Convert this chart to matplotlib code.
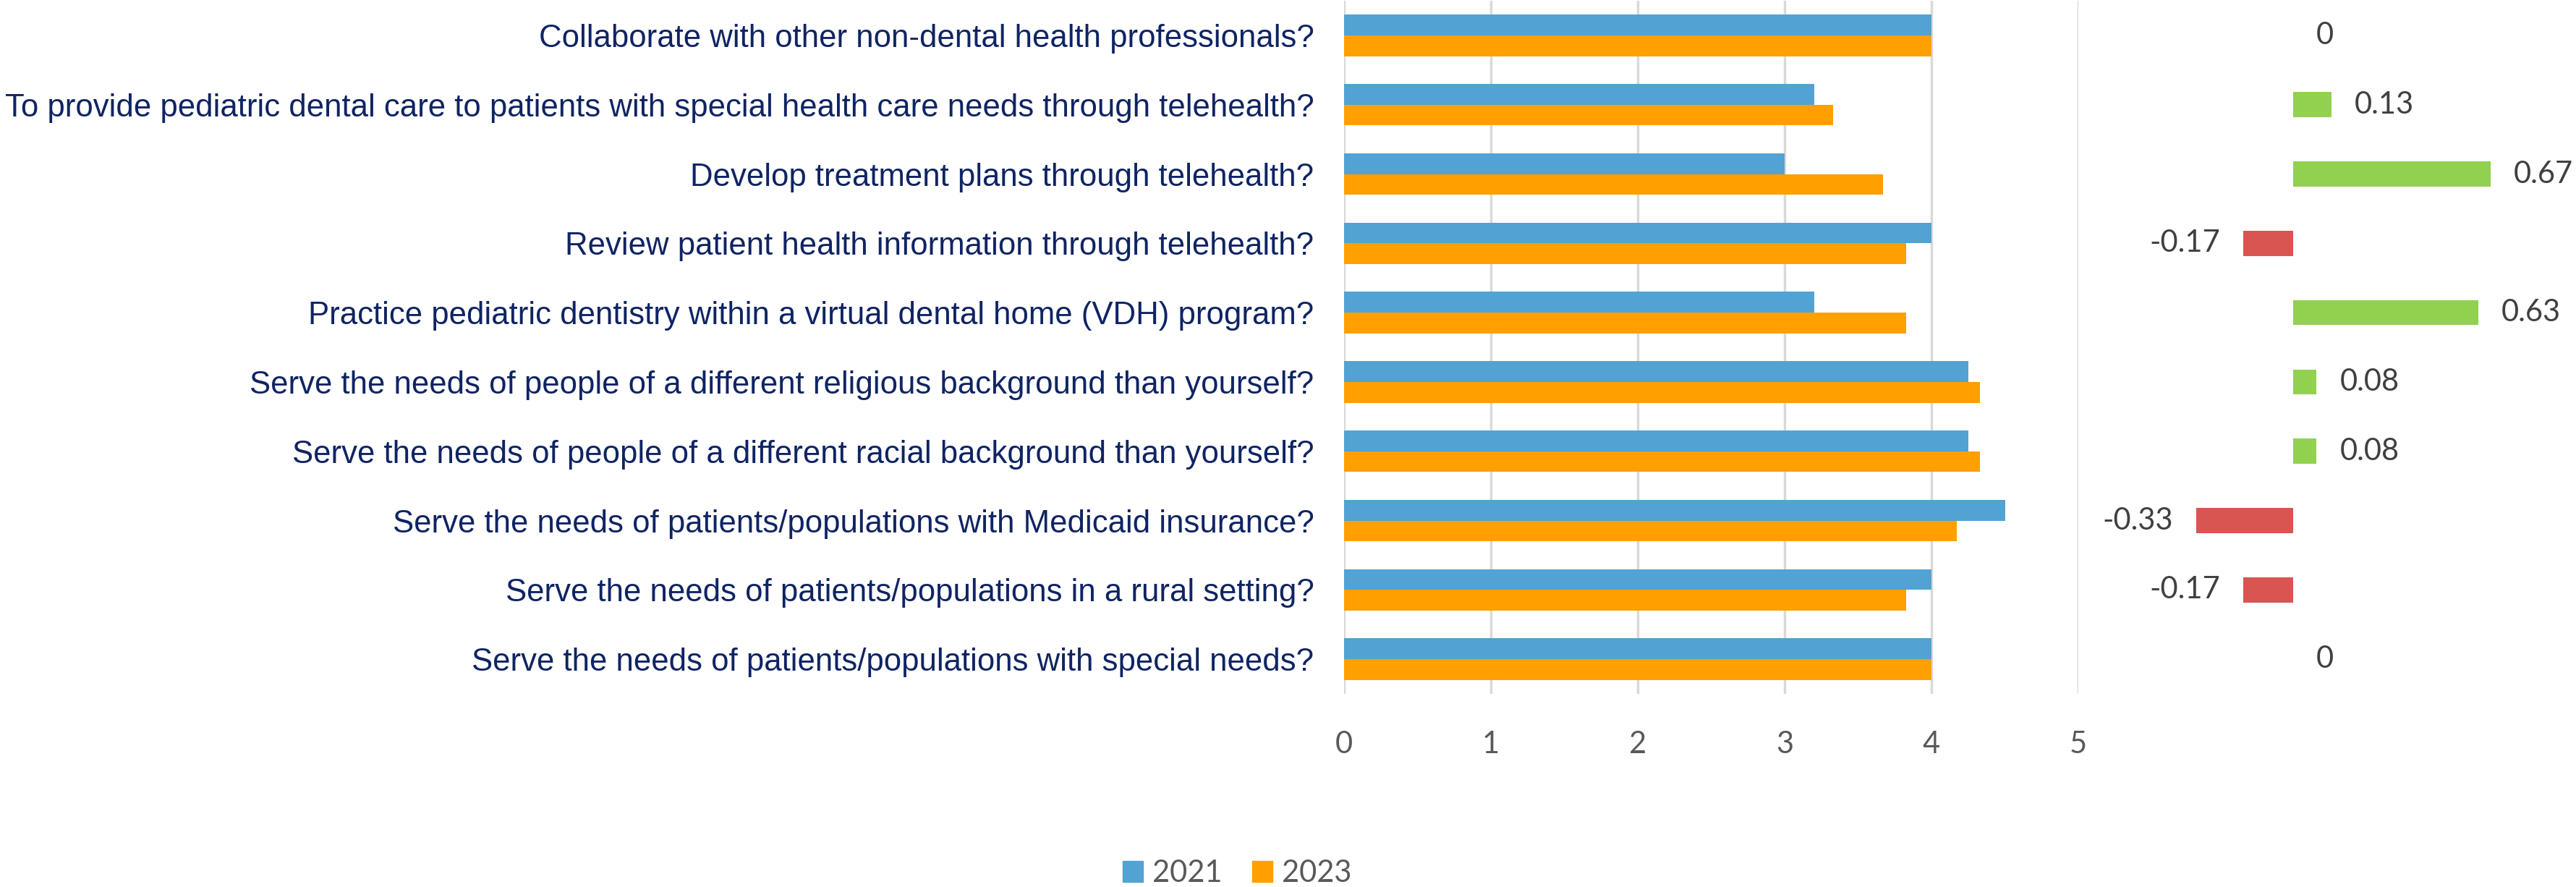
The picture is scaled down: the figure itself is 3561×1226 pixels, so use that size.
import matplotlib
matplotlib.use("Agg")
import matplotlib.pyplot as plt
import numpy as np
from matplotlib.patches import Patch

# categories, top to bottom as shown
questions = [
    "Collaborate with other non-dental health professionals?",
    "To provide pediatric dental care to patients with special health care needs through telehealth?",
    "Develop treatment plans through telehealth?",
    "Review patient health information through telehealth?",
    "Practice pediatric dentistry within a virtual dental home (VDH) program?",
    "Serve the needs of people of a different religious background than yourself?",
    "Serve the needs of people of a different racial background than yourself?",
    "Serve the needs of patients/populations with Medicaid insurance?",
    "Serve the needs of patients/populations in a rural setting?",
    "Serve the needs of patients/populations with special needs?",
]
y2021 = [4.0, 3.2, 3.0, 4.0, 3.2, 4.25, 4.25, 4.5, 4.0, 4.0]
y2023 = [4.0, 3.33, 3.67, 3.83, 3.83, 4.33, 4.33, 4.17, 3.83, 4.0]
diff = [0, 0.13, 0.67, -0.17, 0.63, 0.08, 0.08, -0.33, -0.17, 0]
diff_labels = ["0", "0.13", "0.67", "-0.17", "0.63", "0.08", "0.08", "-0.33", "-0.17", "0"]

blue = "#52A2D3"
orange = "#FF9F00"
green = "#92D050"
red = "#D85552"
navy = "#0F2463"
grey = "#595959"

W, H = 3561, 1226
fig = plt.figure(figsize=(W/100, H/100), dpi=100)

# main bars
ax = fig.add_axes([1858/W, 1-959/H, (2873-1858)/W, (959-1)/H])
pos = np.arange(len(questions))
bh = 0.3
ax.barh(pos - bh/2, y2021, height=bh, color=blue, label="2021", zorder=3)
ax.barh(pos + bh/2, y2023, height=bh, color=orange, label="2023", zorder=3)
ax.set_ylim(len(questions) - 0.5, -0.5)
ax.set_xlim(0, 5)
ax.set_xticks(range(6))
ax.set_yticks(pos)
ax.set_yticklabels(questions, fontsize=31.5, color=navy, fontfamily="Liberation Sans")
ax.tick_params(axis="y", length=0, pad=30)
ax.tick_params(axis="x", length=0, pad=37, labelsize=30, labelcolor=grey)
for t in ax.get_xticklabels():
    t.set_fontfamily("Lato")
ax.grid(axis="x", color="#D9D9D9", linewidth=2.5, zorder=0)
for s in ax.spines.values():
    s.set_visible(False)

# difference bars
ax2 = fig.add_axes([2900/W, 1-959/H, (W-2900)/W, (959-1)/H])
cols = [green if d > 0 else red for d in diff]
ax2.barh(pos, diff, height=0.36, color=cols)
ax2.set_ylim(len(questions) - 0.5, -0.5)
ax2.set_xlim(-0.663, 0.961)
ax2.axis("off")
for i, (d, lab) in enumerate(zip(diff, diff_labels)):
    if d < 0:
        ax2.annotate(lab, (d, i), xytext=(-23, 0), textcoords="offset points",
                     ha="right", va="center", fontsize=30, color="#404040", fontfamily="Lato")
    else:
        ax2.annotate(lab, (d, i), xytext=(23, 0), textcoords="offset points",
                     ha="left", va="center", fontsize=30, color="#404040", fontfamily="Lato")

handles = [Patch(color=blue, label="2021"), Patch(color=orange, label="2023")]
leg = fig.legend(handles=handles, loc="center", bbox_to_anchor=(1710/W, 1-1207/H),
                 ncol=2, frameon=False, prop={"family": "Lato", "size": 30},
                 handlelength=0.68, handleheight=0.68, handletextpad=0.3, columnspacing=1.0)
for t in leg.get_texts():
    t.set_color(grey)

fig.savefig("out.png", dpi=100)
